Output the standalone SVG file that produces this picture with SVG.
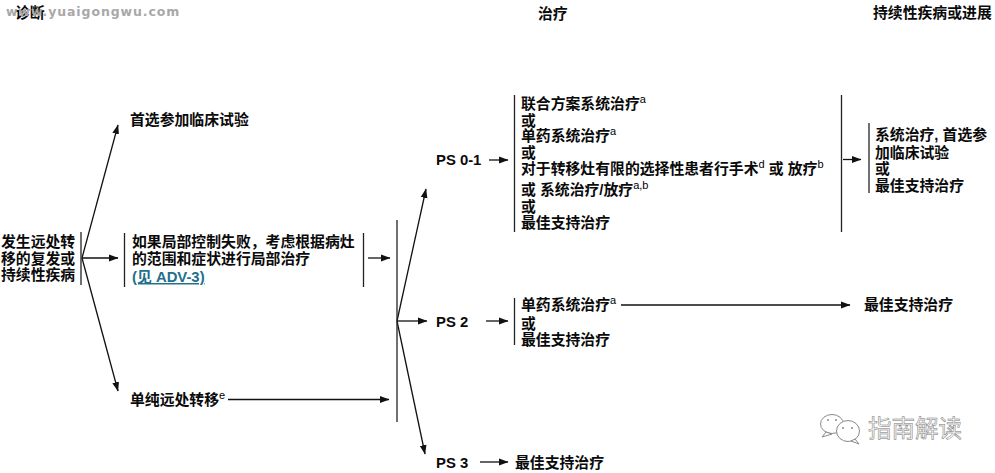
<svg xmlns="http://www.w3.org/2000/svg" width="995" height="473" viewBox="0 0 995 473">
<style>
text{font-family:"Liberation Sans","Noto Sans CJK SC",sans-serif;font-size:14.85px;font-weight:700;fill:#0a0a0a}
.s{font-size:11px;font-weight:400;fill:#000}
.b{stroke:#222;stroke-width:1.3;fill:none}
.c{stroke:#111;stroke-width:1.3;fill:none;marker-end:url(#ah)}
.w{font-size:12.5px;fill:#a8a8a8;letter-spacing:.9px;font-family:"DejaVu Sans",sans-serif}
.mark{font-size:23.5px;font-weight:400;fill:#f6f6f6;stroke:#777;stroke-width:.5}
.ic{fill:#fff;stroke:#8a8a8a;stroke-width:1}
.e{fill:#8a8a8a}
</style>
<defs><marker id="ah" markerUnits="userSpaceOnUse" markerWidth="10" markerHeight="8" refX="9" refY="4" orient="auto"><path d="M0 .6L9.500 4L0 7.400Z" fill="#111"/></marker></defs>
<g id="headers">
<text x="15" y="18">诊断</text>
<text class="w" x="6" y="15.500">www.yuaigongwu.com</text>
<text x="538" y="19">治疗</text>
<text x="873" y="18">持续性疾病或进展</text>
</g>
<g id="connectors">
<path class="c" d="M82 258L118 125"/>
<path class="c" d="M82 258H118"/>
<path class="c" d="M82 258L118 391"/>
<path class="c" d="M368 258H390"/>
<path class="c" d="M228 399.500H389"/>
<path class="c" d="M397 321L426 189"/>
<path class="c" d="M397 321H427"/>
<path class="c" d="M397 321L425 454"/>
<path class="c" d="M489 160H508"/>
<path class="c" d="M486 321H508"/>
<path class="c" d="M480 462H508"/>
<path class="c" d="M843 159.500H861"/>
<path class="c" d="M621 305H850"/>
</g>
<g id="n-start"><path class="b" d="M81 232V285"/><text x="1" y="247">发生远处转</text><text x="1" y="264">移的复发或</text><text x="1" y="280">持续性疾病</text></g>
<g id="n-trial"><text x="130" y="125">首选参加临床试验</text></g>
<g id="n-local"><path class="b" d="M124.500 233V287M363.500 233V287"/><text x="132" y="247">如果局部控制失败，考虑根据病灶</text><text x="132" y="264">的范围和症状进行局部治疗</text><text x="132" y="282" style="fill:#22708c;text-decoration:underline">(见 ADV-3)</text></g>
<g id="n-single"><text x="130" y="405">单纯远处转移<tspan class="s" dy="-6">e</tspan></text></g>
<g id="n-bar"><path class="b" d="M397 220V422"/></g>
<g id="n-ps01"><text x="436" y="165">PS 0-1</text></g>
<g id="n-ps2"><text x="436" y="327">PS 2</text></g>
<g id="n-ps3"><text x="436" y="468">PS 3</text></g>
<g id="n-tx01"><path class="b" d="M514.500 95V232M841.500 95V232"/>
<text x="521" y="109">联合方案系统治疗<tspan class="s" dy="-6">a</tspan></text>
<text x="521" y="126">或</text>
<text x="521" y="141">单药系统治疗<tspan class="s" dy="-6">a</tspan></text>
<text x="521" y="158">或</text>
<text x="521" y="174">对于转移灶有限的选择性患者行手术<tspan class="s" dy="-6">d</tspan><tspan dy="6"> 或 放疗</tspan><tspan class="s" dy="-6">b</tspan></text>
<text x="521" y="195">或 系统治疗/放疗<tspan class="s" dy="-6">a,b</tspan></text>
<text x="521" y="212">或</text>
<text x="521" y="228">最佳支持治疗</text></g>
<g id="n-next"><path class="b" d="M869 123V193"/>
<text x="875" y="140">系统治疗, 首选参</text><text x="875" y="158">加临床试验</text><text x="875" y="174">或</text><text x="875" y="191">最佳支持治疗</text></g>
<g id="n-tx2"><path class="b" d="M514.500 298V345"/>
<text x="521" y="310">单药系统治疗<tspan class="s" dy="-6">a</tspan></text><text x="521" y="329">或</text><text x="521" y="345">最佳支持治疗</text></g>
<g id="n-bsc"><text x="864" y="310">最佳支持治疗</text></g>
<g id="n-bsc3"><text x="515" y="468">最佳支持治疗</text></g>
<g id="watermark">
<ellipse class="ic" cx="832" cy="424" rx="11.500" ry="9.500"/>
<path class="ic" d="M826 432L822 437L832 434Z"/>
<ellipse class="ic" cx="848" cy="431" rx="11.500" ry="10.500"/>
<path class="ic" d="M855 439L859 444L851 441Z"/>
<circle class="e" cx="828" cy="420" r="1"/><circle class="e" cx="836" cy="420" r="1"/>
<circle class="e" cx="843" cy="428" r="1"/><circle class="e" cx="852" cy="428" r="1"/>
<text class="mark" x="868" y="437">指南解读</text>
</g>
</svg>
